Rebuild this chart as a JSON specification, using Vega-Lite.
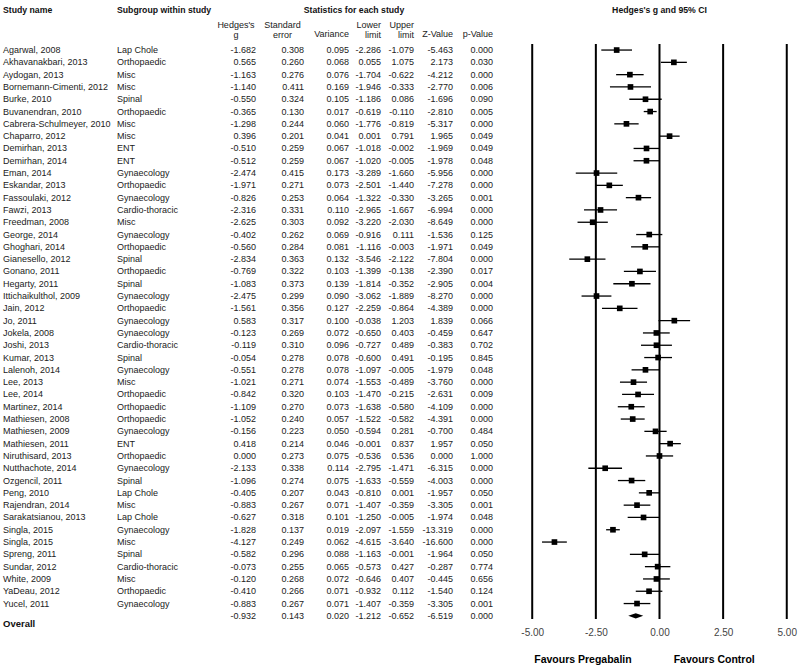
{
  "$schema": "https://vega.github.io/schema/vega-lite/v6.json",
  "padding": {"left": 0, "top": 5, "right": 0, "bottom": 0},
  "bounds": "flush",
  "spacing": 0,
  "config": {
    "font": "Liberation Sans",
    "view": {"stroke": null},
    "text": {"fontSize": 9, "color": "#222"},
    "locale": {"number": {"decimal": ".", "thousands": ",", "grouping": [3], "currency": ["$", ""], "minus": "-"}}
  },
  "datasets": {
    "studies": [
      {"id": 1, "study": "Agarwal, 2008", "sub": "Lap Chole", "g": -1.682, "se": 0.308, "var": 0.095, "lo": -2.286, "hi": -1.079, "z": -5.463, "p": 0.000},
      {"id": 2, "study": "Akhavanakbari, 2013", "sub": "Orthopaedic", "g": 0.565, "se": 0.260, "var": 0.068, "lo": 0.055, "hi": 1.075, "z": 2.173, "p": 0.030},
      {"id": 3, "study": "Aydogan, 2013", "sub": "Misc", "g": -1.163, "se": 0.276, "var": 0.076, "lo": -1.704, "hi": -0.622, "z": -4.212, "p": 0.000},
      {"id": 4, "study": "Bornemann-Cimenti, 2012", "sub": "Misc", "g": -1.140, "se": 0.411, "var": 0.169, "lo": -1.946, "hi": -0.333, "z": -2.770, "p": 0.006},
      {"id": 5, "study": "Burke, 2010", "sub": "Spinal", "g": -0.550, "se": 0.324, "var": 0.105, "lo": -1.186, "hi": 0.086, "z": -1.696, "p": 0.090},
      {"id": 6, "study": "Buvanendran, 2010", "sub": "Orthopaedic", "g": -0.365, "se": 0.130, "var": 0.017, "lo": -0.619, "hi": -0.110, "z": -2.810, "p": 0.005},
      {"id": 7, "study": "Cabrera-Schulmeyer, 2010", "sub": "Misc", "g": -1.298, "se": 0.244, "var": 0.060, "lo": -1.776, "hi": -0.819, "z": -5.317, "p": 0.000},
      {"id": 8, "study": "Chaparro, 2012", "sub": "Misc", "g": 0.396, "se": 0.201, "var": 0.041, "lo": 0.001, "hi": 0.791, "z": 1.965, "p": 0.049},
      {"id": 9, "study": "Demirhan, 2013", "sub": "ENT", "g": -0.510, "se": 0.259, "var": 0.067, "lo": -1.018, "hi": -0.002, "z": -1.969, "p": 0.049},
      {"id": 10, "study": "Demirhan, 2014", "sub": "ENT", "g": -0.512, "se": 0.259, "var": 0.067, "lo": -1.020, "hi": -0.005, "z": -1.978, "p": 0.048},
      {"id": 11, "study": "Eman, 2014", "sub": "Gynaecology", "g": -2.474, "se": 0.415, "var": 0.173, "lo": -3.289, "hi": -1.660, "z": -5.956, "p": 0.000},
      {"id": 12, "study": "Eskandar, 2013", "sub": "Orthopaedic", "g": -1.971, "se": 0.271, "var": 0.073, "lo": -2.501, "hi": -1.440, "z": -7.278, "p": 0.000},
      {"id": 13, "study": "Fassoulaki, 2012", "sub": "Gynaecology", "g": -0.826, "se": 0.253, "var": 0.064, "lo": -1.322, "hi": -0.330, "z": -3.265, "p": 0.001},
      {"id": 14, "study": "Fawzi, 2013", "sub": "Cardio-thoracic", "g": -2.316, "se": 0.331, "var": 0.110, "lo": -2.965, "hi": -1.667, "z": -6.994, "p": 0.000},
      {"id": 15, "study": "Freedman, 2008", "sub": "Misc", "g": -2.625, "se": 0.303, "var": 0.092, "lo": -3.220, "hi": -2.030, "z": -8.649, "p": 0.000},
      {"id": 16, "study": "George, 2014", "sub": "Gynaecology", "g": -0.402, "se": 0.262, "var": 0.069, "lo": -0.916, "hi": 0.111, "z": -1.536, "p": 0.125},
      {"id": 17, "study": "Ghoghari, 2014", "sub": "Orthopaedic", "g": -0.560, "se": 0.284, "var": 0.081, "lo": -1.116, "hi": -0.003, "z": -1.971, "p": 0.049},
      {"id": 18, "study": "Gianesello, 2012", "sub": "Spinal", "g": -2.834, "se": 0.363, "var": 0.132, "lo": -3.546, "hi": -2.122, "z": -7.804, "p": 0.000},
      {"id": 19, "study": "Gonano, 2011", "sub": "Orthopaedic", "g": -0.769, "se": 0.322, "var": 0.103, "lo": -1.399, "hi": -0.138, "z": -2.390, "p": 0.017},
      {"id": 20, "study": "Hegarty, 2011", "sub": "Spinal", "g": -1.083, "se": 0.373, "var": 0.139, "lo": -1.814, "hi": -0.352, "z": -2.905, "p": 0.004},
      {"id": 21, "study": "Ittichaikulthol, 2009", "sub": "Gynaecology", "g": -2.475, "se": 0.299, "var": 0.090, "lo": -3.062, "hi": -1.889, "z": -8.270, "p": 0.000},
      {"id": 22, "study": "Jain, 2012", "sub": "Orthopaedic", "g": -1.561, "se": 0.356, "var": 0.127, "lo": -2.259, "hi": -0.864, "z": -4.389, "p": 0.000},
      {"id": 23, "study": "Jo, 2011", "sub": "Gynaecology", "g": 0.583, "se": 0.317, "var": 0.100, "lo": -0.038, "hi": 1.203, "z": 1.839, "p": 0.066},
      {"id": 24, "study": "Jokela, 2008", "sub": "Gynaecology", "g": -0.123, "se": 0.269, "var": 0.072, "lo": -0.650, "hi": 0.403, "z": -0.459, "p": 0.647},
      {"id": 25, "study": "Joshi, 2013", "sub": "Cardio-thoracic", "g": -0.119, "se": 0.310, "var": 0.096, "lo": -0.727, "hi": 0.489, "z": -0.383, "p": 0.702},
      {"id": 26, "study": "Kumar, 2013", "sub": "Spinal", "g": -0.054, "se": 0.278, "var": 0.078, "lo": -0.600, "hi": 0.491, "z": -0.195, "p": 0.845},
      {"id": 27, "study": "Lalenoh, 2014", "sub": "Gynaecology", "g": -0.551, "se": 0.278, "var": 0.078, "lo": -1.097, "hi": -0.005, "z": -1.979, "p": 0.048},
      {"id": 28, "study": "Lee, 2013", "sub": "Misc", "g": -1.021, "se": 0.271, "var": 0.074, "lo": -1.553, "hi": -0.489, "z": -3.760, "p": 0.000},
      {"id": 29, "study": "Lee, 2014", "sub": "Orthopaedic", "g": -0.842, "se": 0.320, "var": 0.103, "lo": -1.470, "hi": -0.215, "z": -2.631, "p": 0.009},
      {"id": 30, "study": "Martinez, 2014", "sub": "Orthopaedic", "g": -1.109, "se": 0.270, "var": 0.073, "lo": -1.638, "hi": -0.580, "z": -4.109, "p": 0.000},
      {"id": 31, "study": "Mathiesen, 2008", "sub": "Orthopaedic", "g": -1.052, "se": 0.240, "var": 0.057, "lo": -1.522, "hi": -0.582, "z": -4.391, "p": 0.000},
      {"id": 32, "study": "Mathiesen, 2009", "sub": "Gynaecology", "g": -0.156, "se": 0.223, "var": 0.050, "lo": -0.594, "hi": 0.281, "z": -0.700, "p": 0.484},
      {"id": 33, "study": "Mathiesen, 2011", "sub": "ENT", "g": 0.418, "se": 0.214, "var": 0.046, "lo": -0.001, "hi": 0.837, "z": 1.957, "p": 0.050},
      {"id": 34, "study": "Niruthisard, 2013", "sub": "Orthopaedic", "g": 0.000, "se": 0.273, "var": 0.075, "lo": -0.536, "hi": 0.536, "z": 0.000, "p": 1.000},
      {"id": 35, "study": "Nutthachote, 2014", "sub": "Gynaecology", "g": -2.133, "se": 0.338, "var": 0.114, "lo": -2.795, "hi": -1.471, "z": -6.315, "p": 0.000},
      {"id": 36, "study": "Ozgencil, 2011", "sub": "Spinal", "g": -1.096, "se": 0.274, "var": 0.075, "lo": -1.633, "hi": -0.559, "z": -4.003, "p": 0.000},
      {"id": 37, "study": "Peng, 2010", "sub": "Lap Chole", "g": -0.405, "se": 0.207, "var": 0.043, "lo": -0.810, "hi": 0.001, "z": -1.957, "p": 0.050},
      {"id": 38, "study": "Rajendran, 2014", "sub": "Misc", "g": -0.883, "se": 0.267, "var": 0.071, "lo": -1.407, "hi": -0.359, "z": -3.305, "p": 0.001},
      {"id": 39, "study": "Sarakatsianou, 2013", "sub": "Lap Chole", "g": -0.627, "se": 0.318, "var": 0.101, "lo": -1.250, "hi": -0.005, "z": -1.974, "p": 0.048},
      {"id": 40, "study": "Singla, 2015", "sub": "Gynaecology", "g": -1.828, "se": 0.137, "var": 0.019, "lo": -2.097, "hi": -1.559, "z": -13.319, "p": 0.000},
      {"id": 41, "study": "Singla, 2015", "sub": "Misc", "g": -4.127, "se": 0.249, "var": 0.062, "lo": -4.615, "hi": -3.640, "z": -16.600, "p": 0.000},
      {"id": 42, "study": "Spreng, 2011", "sub": "Spinal", "g": -0.582, "se": 0.296, "var": 0.088, "lo": -1.163, "hi": -0.001, "z": -1.964, "p": 0.050},
      {"id": 43, "study": "Sundar, 2012", "sub": "Cardio-thoracic", "g": -0.073, "se": 0.255, "var": 0.065, "lo": -0.573, "hi": 0.427, "z": -0.287, "p": 0.774},
      {"id": 44, "study": "White, 2009", "sub": "Misc", "g": -0.120, "se": 0.268, "var": 0.072, "lo": -0.646, "hi": 0.407, "z": -0.445, "p": 0.656},
      {"id": 45, "study": "YaDeau, 2012", "sub": "Orthopaedic", "g": -0.410, "se": 0.266, "var": 0.071, "lo": -0.932, "hi": 0.112, "z": -1.540, "p": 0.124},
      {"id": 46, "study": "Yucel, 2011", "sub": "Gynaecology", "g": -0.883, "se": 0.267, "var": 0.071, "lo": -1.407, "hi": -0.359, "z": -3.305, "p": 0.001},
      {"id": 47, "study": "Overall", "sub": "", "g": -0.932, "se": 0.143, "var": 0.020, "lo": -1.212, "hi": -0.652, "z": -6.519, "p": 0.000}
    ],
    "refs": [{"v": -5}, {"v": -2.5}, {"v": 0}, {"v": 2.5}, {"v": 5}]
  },
  "hconcat": [
    {
      "width": 6, "height": 615,
      "layer": [
        {
          "data": {"name": "studies"},
          "transform": [{"filter": {"field": "id", "lte": 46}}],
          "mark": {"type": "text", "align": "left", "baseline": "middle"},
          "encoding": {
            "y": {"field": "id", "type": "ordinal", "axis": null, "scale": {"type": "band", "paddingInner": 0, "paddingOuter": 0, "domain": ["h0","h1","h2",1,2,3,4,5,6,7,8,9,10,11,12,13,14,15,16,17,18,19,20,21,22,23,24,25,26,27,28,29,30,31,32,33,34,35,36,37,38,39,40,41,42,43,44,45,46,47]}},
            "text": {"field": "study"}
          }
        },
        {
          "data": {"name": "studies"},
          "transform": [{"filter": {"field": "id", "equal": 47}}],
          "mark": {"type": "text", "align": "left", "baseline": "middle", "fontWeight": "bold", "fontSize": 9.5, "dy": 8, "color": "#111"},
          "encoding": {
            "y": {"field": "id", "type": "ordinal", "axis": null},
            "text": {"field": "study"}
          }
        },
        {
          "data": {"values": [{"label": "Study name"}]},
          "mark": {"type": "text", "align": "left", "baseline": "middle", "fontWeight": "bold", "fontSize": 8.7, "dy": -3.5, "color": "#111"},
          "encoding": {
            "y": {"datum": "h0", "type": "ordinal", "axis": null},
            "text": {"field": "label"}
          }
        }
      ]
    },
    {
      "width": 222, "height": 615,
      "layer": [
        {
          "data": {"name": "studies"},
          "mark": {"type": "text", "align": "left", "baseline": "middle"},
          "encoding": {
            "y": {"field": "id", "type": "ordinal", "axis": null, "scale": {"type": "band", "paddingInner": 0, "paddingOuter": 0, "domain": ["h0","h1","h2",1,2,3,4,5,6,7,8,9,10,11,12,13,14,15,16,17,18,19,20,21,22,23,24,25,26,27,28,29,30,31,32,33,34,35,36,37,38,39,40,41,42,43,44,45,46,47]}},
            "text": {"field": "sub"}
          }
        },
        {
          "data": {"values": [{"label": "Subgroup within study"}]},
          "mark": {"type": "text", "align": "left", "baseline": "middle", "fontWeight": "bold", "fontSize": 8.7, "dy": -3.5, "color": "#111"},
          "encoding": {
            "y": {"datum": "h0", "type": "ordinal", "axis": null},
            "text": {"field": "label"}
          }
        }
      ]
    },
    {
      "width": 56, "height": 615,
      "layer": [
        {
          "data": {"name": "studies"},
          "mark": {"type": "text", "align": "right", "baseline": "middle"},
          "encoding": {
            "y": {"field": "id", "type": "ordinal", "axis": null, "scale": {"type": "band", "paddingInner": 0, "paddingOuter": 0, "domain": ["h0","h1","h2",1,2,3,4,5,6,7,8,9,10,11,12,13,14,15,16,17,18,19,20,21,22,23,24,25,26,27,28,29,30,31,32,33,34,35,36,37,38,39,40,41,42,43,44,45,46,47]}},
            "text": {"field": "g", "type": "quantitative", "format": ".3f"}
          }
        },
        {
          "data": {"values": [{"label": ["Hedges's", "g"]}]},
          "mark": {"type": "text", "align": "center", "baseline": "bottom", "dx": -20, "dy": -7.5, "lineHeight": 9.5},
          "encoding": {
            "y": {"datum": "h2", "type": "ordinal", "axis": null},
            "text": {"field": "label"}
          }
        }
      ]
    },
    {
      "width": 40, "height": 615,
      "layer": [
        {
          "data": {"name": "studies"},
          "mark": {"type": "text", "align": "right", "baseline": "middle"},
          "encoding": {
            "y": {"field": "id", "type": "ordinal", "axis": null, "scale": {"type": "band", "paddingInner": 0, "paddingOuter": 0, "domain": ["h0","h1","h2",1,2,3,4,5,6,7,8,9,10,11,12,13,14,15,16,17,18,19,20,21,22,23,24,25,26,27,28,29,30,31,32,33,34,35,36,37,38,39,40,41,42,43,44,45,46,47]}},
            "text": {"field": "se", "type": "quantitative", "format": ".3f"}
          }
        },
        {
          "data": {"values": [{"label": ["Standard", "error"]}]},
          "mark": {"type": "text", "align": "center", "baseline": "bottom", "dx": -21.5, "dy": -7.5, "lineHeight": 9.5},
          "encoding": {
            "y": {"datum": "h2", "type": "ordinal", "axis": null},
            "text": {"field": "label"}
          }
        }
      ]
    },
    {
      "width": 50, "height": 615,
      "layer": [
        {
          "data": {"name": "studies"},
          "mark": {"type": "text", "align": "right", "baseline": "middle"},
          "encoding": {
            "y": {"field": "id", "type": "ordinal", "axis": null, "scale": {"type": "band", "paddingInner": 0, "paddingOuter": 0, "domain": ["h0","h1","h2",1,2,3,4,5,6,7,8,9,10,11,12,13,14,15,16,17,18,19,20,21,22,23,24,25,26,27,28,29,30,31,32,33,34,35,36,37,38,39,40,41,42,43,44,45,46,47]}},
            "text": {"field": "var", "type": "quantitative", "format": ".3f"}
          }
        },
        {
          "data": {"values": [{"label": "Variance"}]},
          "mark": {"type": "text", "align": "right", "baseline": "bottom", "dy": 1.5, "lineHeight": 9.5},
          "encoding": {
            "y": {"datum": "h2", "type": "ordinal", "axis": null},
            "text": {"field": "label"}
          }
        },
        {
          "data": {"values": [{"label": "Statistics for each study"}]},
          "mark": {"type": "text", "align": "center", "baseline": "middle", "fontWeight": "bold", "fontSize": 8.7, "dx": 5, "dy": -3.5, "color": "#111"},
          "encoding": {
            "y": {"datum": "h0", "type": "ordinal", "axis": null},
            "text": {"field": "label"}
          }
        }
      ]
    },
    {
      "width": 14, "height": 615,
      "layer": [
        {
          "data": {"name": "studies"},
          "mark": {"type": "text", "align": "right", "baseline": "middle"},
          "encoding": {
            "y": {"field": "id", "type": "ordinal", "axis": null, "scale": {"type": "band", "paddingInner": 0, "paddingOuter": 0, "domain": ["h0","h1","h2",1,2,3,4,5,6,7,8,9,10,11,12,13,14,15,16,17,18,19,20,21,22,23,24,25,26,27,28,29,30,31,32,33,34,35,36,37,38,39,40,41,42,43,44,45,46,47]}},
            "text": {"field": "lo", "type": "quantitative", "format": ".3f"}
          }
        },
        {
          "data": {"values": [{"label": ["Lower", "limit"]}]},
          "mark": {"type": "text", "align": "right", "baseline": "bottom", "dy": -7.5, "lineHeight": 9.5},
          "encoding": {
            "y": {"datum": "h2", "type": "ordinal", "axis": null},
            "text": {"field": "label"}
          }
        }
      ]
    },
    {
      "width": 52, "height": 615,
      "layer": [
        {
          "data": {"name": "studies"},
          "mark": {"type": "text", "align": "right", "baseline": "middle"},
          "encoding": {
            "y": {"field": "id", "type": "ordinal", "axis": null, "scale": {"type": "band", "paddingInner": 0, "paddingOuter": 0, "domain": ["h0","h1","h2",1,2,3,4,5,6,7,8,9,10,11,12,13,14,15,16,17,18,19,20,21,22,23,24,25,26,27,28,29,30,31,32,33,34,35,36,37,38,39,40,41,42,43,44,45,46,47]}},
            "text": {"field": "hi", "type": "quantitative", "format": ".3f"}
          }
        },
        {
          "data": {"values": [{"label": ["Upper", "limit"]}]},
          "mark": {"type": "text", "align": "right", "baseline": "bottom", "dy": -7.5, "lineHeight": 9.5},
          "encoding": {
            "y": {"datum": "h2", "type": "ordinal", "axis": null},
            "text": {"field": "label"}
          }
        }
      ]
    },
    {
      "width": 26, "height": 615,
      "layer": [
        {
          "data": {"name": "studies"},
          "mark": {"type": "text", "align": "right", "baseline": "middle"},
          "encoding": {
            "y": {"field": "id", "type": "ordinal", "axis": null, "scale": {"type": "band", "paddingInner": 0, "paddingOuter": 0, "domain": ["h0","h1","h2",1,2,3,4,5,6,7,8,9,10,11,12,13,14,15,16,17,18,19,20,21,22,23,24,25,26,27,28,29,30,31,32,33,34,35,36,37,38,39,40,41,42,43,44,45,46,47]}},
            "text": {"field": "z", "type": "quantitative", "format": ".3f"}
          }
        },
        {
          "data": {"values": [{"label": "Z-Value"}]},
          "mark": {"type": "text", "align": "right", "baseline": "bottom", "dy": 1.5, "lineHeight": 9.5},
          "encoding": {
            "y": {"datum": "h2", "type": "ordinal", "axis": null},
            "text": {"field": "label"}
          }
        }
      ]
    },
    {
      "width": 54, "height": 615,
      "layer": [
        {
          "data": {"name": "studies"},
          "mark": {"type": "text", "align": "right", "baseline": "middle"},
          "encoding": {
            "y": {"field": "id", "type": "ordinal", "axis": null, "scale": {"type": "band", "paddingInner": 0, "paddingOuter": 0, "domain": ["h0","h1","h2",1,2,3,4,5,6,7,8,9,10,11,12,13,14,15,16,17,18,19,20,21,22,23,24,25,26,27,28,29,30,31,32,33,34,35,36,37,38,39,40,41,42,43,44,45,46,47]}},
            "text": {"field": "p", "type": "quantitative", "format": ".3f"}
          }
        },
        {
          "data": {"values": [{"label": "p-Value"}]},
          "mark": {"type": "text", "align": "right", "baseline": "bottom", "dy": 1.5, "lineHeight": 9.5},
          "encoding": {
            "y": {"datum": "h2", "type": "ordinal", "axis": null},
            "text": {"field": "label"}
          }
        }
      ]
    },
    {
      "width": 280, "height": 615,
      "layer": [
        {
          "data": {"name": "refs"},
          "mark": {"type": "rule", "color": "#000", "strokeWidth": 2},
          "encoding": {
            "x": {
              "field": "v", "type": "quantitative",
              "scale": {"domain": [-5.48, 5.52], "nice": false, "zero": false},
              "title": "Favours Pregabalin\u2003\u2003\u2003\u2003Favours Control",
              "axis": {
                "values": [-5, -2.5, 0, 2.5, 5], "format": ".2f",
                "domain": false, "ticks": false, "grid": false,
                "labelFontSize": 10, "labelColor": "#444", "labelPadding": 5,
                "labelFlush": false, "labelOverlap": false,
                "titleFontSize": 10.5, "titleFontWeight": "bold", "titleColor": "#000",
                "titleX": 124, "titleY": 37, "titleBaseline": "middle", "titleAlign": "center", "titleAnchor": null
              }
            },
            "y": {"datum": 1, "type": "ordinal", "bandPosition": 0, "axis": null, "scale": {"type": "band", "paddingInner": 0, "paddingOuter": 0, "domain": ["h0","h1","h2",1,2,3,4,5,6,7,8,9,10,11,12,13,14,15,16,17,18,19,20,21,22,23,24,25,26,27,28,29,30,31,32,33,34,35,36,37,38,39,40,41,42,43,44,45,46,47]}},
            "y2": {"datum": 47, "bandPosition": 0.75}
          }
        },
        {
          "data": {"name": "studies"},
          "transform": [{"filter": {"field": "id", "lte": 46}}],
          "mark": {"type": "rule", "color": "#000", "strokeWidth": 1.3},
          "encoding": {
            "x": {"field": "lo", "type": "quantitative", "title": "Favours Pregabalin\u2003\u2003\u2003\u2003Favours Control"},
            "x2": {"field": "hi"},
            "y": {"field": "id", "type": "ordinal", "axis": null}
          }
        },
        {
          "data": {"name": "studies"},
          "transform": [{"filter": {"field": "id", "lte": 46}}],
          "mark": {"type": "point", "shape": "square", "filled": true, "size": 32, "color": "#000", "opacity": 1},
          "encoding": {
            "x": {"field": "g", "type": "quantitative", "title": "Favours Pregabalin\u2003\u2003\u2003\u2003Favours Control"},
            "y": {"field": "id", "type": "ordinal", "axis": null}
          }
        },
        {
          "data": {"name": "studies"},
          "transform": [{"filter": {"field": "id", "equal": 47}}],
          "mark": {"type": "point", "shape": "M-1,0L0,-0.34L1,0L0,0.34Z", "filled": true, "size": 225, "color": "#000", "opacity": 1},
          "encoding": {
            "x": {"field": "g", "type": "quantitative", "title": "Favours Pregabalin\u2003\u2003\u2003\u2003Favours Control"},
            "y": {"field": "id", "type": "ordinal", "axis": null}
          }
        },
        {
          "data": {"values": [{"label": "Hedges's g and 95% CI"}]},
          "mark": {"type": "text", "align": "center", "baseline": "middle", "fontWeight": "bold", "fontSize": 8.7, "dy": -3.5, "color": "#111"},
          "encoding": {
            "x": {"datum": 0, "type": "quantitative"},
            "y": {"datum": "h0", "type": "ordinal", "axis": null},
            "text": {"field": "label"}
          }
        }
      ]
    }
  ]
}
